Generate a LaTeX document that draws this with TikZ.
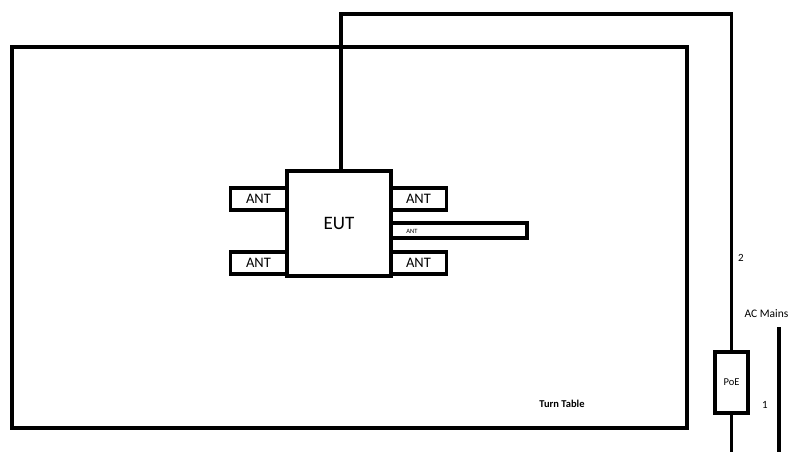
\documentclass[tikz,border=0pt]{standalone}
\usepackage{fontspec}
\setmainfont{Carlito}
\usetikzlibrary{positioning}

\begin{document}
\begin{tikzpicture}[x=1pt, y=-1pt, line width=3.2pt,
    box/.style={draw, fill=white, inner sep=0pt},
    antbox/.style={box, minimum width=56pt, minimum height=22pt, font=\fontsize{14.5}{14.5}\selectfont},
    lbl/.style={inner sep=0pt, font=\fontsize{11}{11}\selectfont}]
  \useasboundingbox (0,0) rectangle (792,452);
  % turn table
  \node[box, minimum width=675pt, minimum height=381pt] (table) at (349.5,237.5) {};
  \node[lbl, font=\bfseries\fontsize{10.5}{10.5}\selectfont] (tablelbl) at (562,404) {Turn Table};
  % antennas
  \node[antbox] (antlt) at (258.5,199) {ANT};
  \node[antbox] (antlb) at (258.5,263) {ANT};
  \node[antbox] (antrt) at (418.5,199) {ANT};
  \node[antbox] (antrb) at (418.5,263) {ANT};
  \node[box, minimum width=136pt, minimum height=15pt] (antlong) at (459,230.5) {};
  \node[lbl, font=\fontsize{6.5}{6.5}\selectfont] (antlonglbl) at (412,231) {ANT};
  % EUT
  \node[box, minimum width=104pt, minimum height=105pt, font=\fontsize{19}{19}\selectfont] (eut) at (339,223.5) {EUT};
  % PoE
  \node[box, minimum width=33pt, minimum height=61pt, font=\fontsize{10.5}{10.5}\selectfont] (poe) at (731.5,382.5) {PoE};
  \coordinate (cabletop) at (341,14);
  \coordinate (poeend) at (731.5,460);
  \coordinate (actop) at (779,327);
  \coordinate (acend) at (779,460);
  % cables
  \draw (eut.north -| cabletop) -- (cabletop) -| (poe.north);
  \draw (poe.south) -- (poeend);
  \draw (actop) -- (acend);
  \node[lbl] (lbltwo) at (741,258) {2};
  \node[lbl] (lblone) at (765,405) {1};
  \node[lbl, anchor=east, font=\fontsize{11.5}{11.5}\selectfont] (aclbl) at (790,314) {AC Mains};
\end{tikzpicture}
\end{document}
